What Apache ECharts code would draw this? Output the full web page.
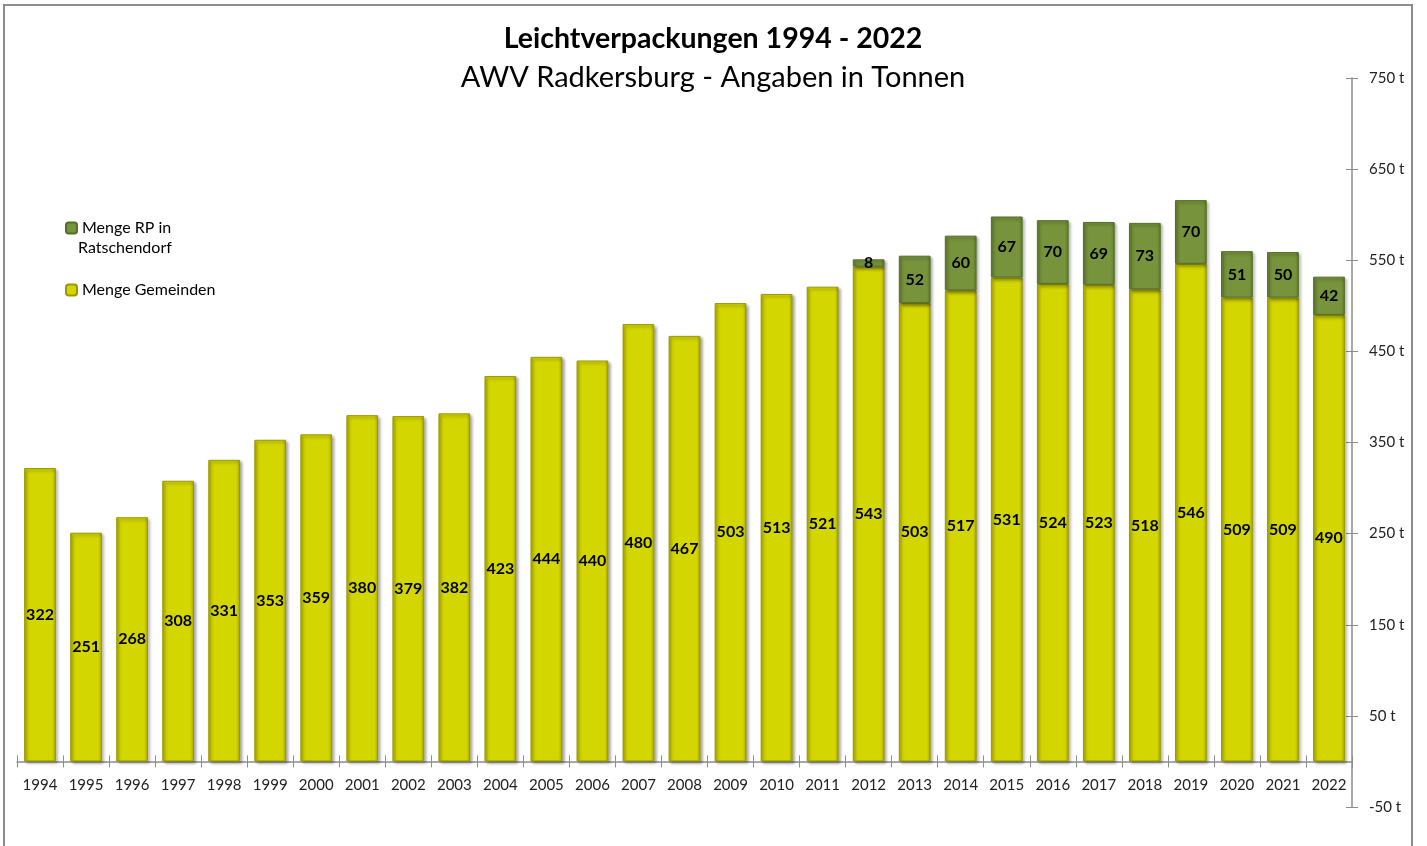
<!DOCTYPE html>
<html>
<head>
<meta charset="utf-8">
<script src="https://cdn.jsdelivr.net/npm/echarts@6/dist/echarts.min.js"></script>
<style>
html,body{margin:0;padding:0;background:#fff;}
#frame{position:absolute;left:3px;top:4px;width:1410px;height:850px;border:2px solid #8c8c8c;box-sizing:border-box;}
#chart{position:absolute;left:0;top:0;width:1427px;height:846px;}
</style>
</head>
<body>
<div id="frame"></div>
<div id="chart"></div>
<script>
const years = ['1994','1995','1996','1997','1998','1999','2000','2001','2002','2003','2004','2005','2006','2007','2008','2009','2010','2011','2012','2013','2014','2015','2016','2017','2018','2019','2020','2021','2022'];
const gemeinden = [322,251,268,308,331,353,359,380,379,382,423,444,440,480,467,503,513,521,543,503,517,531,524,523,518,546,509,509,490];
const ratschendorf = [null,null,null,null,null,null,null,null,null,null,null,null,null,null,null,null,null,null,8,52,60,67,70,69,73,70,51,50,42];
const yMin = -50, yMax = 750, yStep = 100;

const fontFam = 'Lato, "Open Sans", sans-serif';
function grad(edge, mid){
  return new echarts.graphic.LinearGradient(0,0,1,0,[
    {offset:0,color:edge},{offset:0.12,color:mid},{offset:0.88,color:mid},{offset:1,color:edge}
  ]);
}
const RP = 'Menge RP in Ratschendorf', GEM = 'Menge Gemeinden';
const gridBottom = 39, gridTop = 78, chartH = 846;
// shift the category axis up to the value 0 line
const plotH = chartH - gridTop - gridBottom;
const zeroOffset = -plotH * (0 - yMin) / (yMax - yMin);

const chart = echarts.init(document.getElementById('chart'));
chart.setOption({
  animation:false,
  backgroundColor:'transparent',
  title:[
    {text:'Leichtverpackungen 1994 - 2022',left:708,textAlign:'center',top:19,textStyle:{fontFamily:fontFam,fontSize:28.5,fontWeight:'bold',color:'#000'}},
    {text:'AWV Radkersburg - Angaben in Tonnen',left:708,textAlign:'center',top:58,textStyle:{fontFamily:fontFam,fontSize:29,fontWeight:'normal',color:'#000'}}
  ],
  legend:{
    orient:'vertical',left:60,top:215,itemWidth:11,itemHeight:11,itemGap:46,
    data:[RP,GEM],
    formatter:function(n){return n===RP?'Menge RP in':n;},
    textStyle:{fontFamily:fontFam,fontSize:16,color:'#000'}
  },
  graphic:[{type:'text',left:78,top:240,style:{text:'Ratschendorf',font:'16px '+fontFam,fill:'#000'}}],
  grid:{left:17,right:75,top:gridTop,bottom:gridBottom,containLabel:false},
  xAxis:[{
    type:'category',data:years,offset:zeroOffset,
    axisLine:{onZero:false,lineStyle:{color:'#8c8c8c',width:1.5}},
    axisTick:{show:true,length:6,lineStyle:{color:'#8c8c8c'}},
    axisLabel:{fontFamily:fontFam,fontSize:15,color:'#222',margin:16}
  },{
    type:'category',data:years,position:'bottom',offset:zeroOffset,
    axisLine:{show:false,onZero:false},
    axisTick:{show:true,inside:true,length:6,lineStyle:{color:'#8c8c8c'}},
    axisLabel:{show:false}
  }],
  yAxis:[{
    type:'value',position:'right',min:yMin,max:yMax,interval:yStep,
    axisLine:{show:true,lineStyle:{color:'#8c8c8c',width:1.5}},
    axisTick:{show:true,length:6,lineStyle:{color:'#8c8c8c'}},
    splitLine:{show:false},
    axisLabel:{fontFamily:fontFam,fontSize:15,color:'#222',margin:17,formatter:'{value} t'}
  },{
    type:'value',position:'right',min:yMin,max:yMax,interval:yStep,
    axisLine:{show:false},
    axisTick:{show:true,inside:true,length:6,lineStyle:{color:'#8c8c8c'}},
    splitLine:{show:false},axisLabel:{show:false}
  }],
  series:[{
    name:GEM,type:'bar',stack:'a',barWidth:'69%',data:gemeinden,
    itemStyle:{color:grad('#a9a900','#d4d600'),borderColor:'#9a9a00',borderWidth:1,shadowBlur:3,shadowColor:'rgba(0,0,0,0.35)',shadowOffsetX:2,shadowOffsetY:2},
    label:{show:true,position:'inside',fontFamily:fontFam,fontSize:16,fontWeight:'bold',color:'#000'}
  },{
    name:RP,type:'bar',stack:'a',barWidth:'69%',data:ratschendorf,
    itemStyle:{color:grad('#5e7a2a','#77933c'),borderColor:'#556f26',borderWidth:1,shadowBlur:3,shadowColor:'rgba(0,0,0,0.35)',shadowOffsetX:2,shadowOffsetY:2},
    label:{show:true,position:'inside',fontFamily:fontFam,fontSize:16,fontWeight:'bold',color:'#000'}
  }],
  color:['#d4d600','#77933c']
});
</script>
</body>
</html>
